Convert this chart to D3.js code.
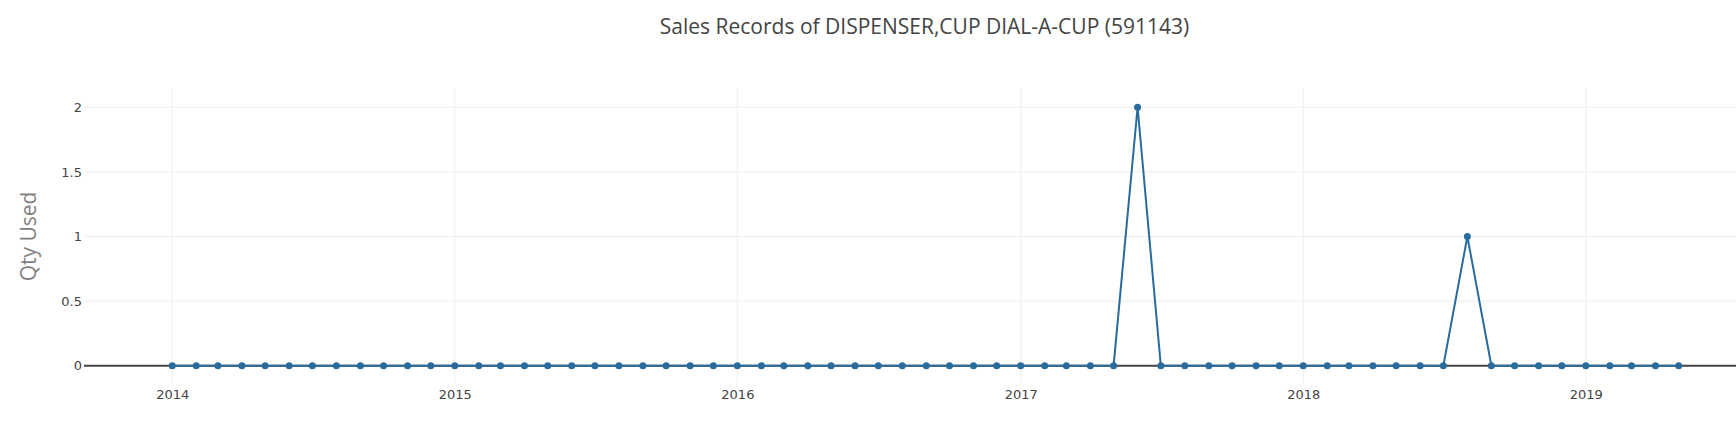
<!DOCTYPE html>
<html>
<head>
<meta charset="utf-8">
<script src="https://cdn.jsdelivr.net/npm/d3@7"></script>
<style>
  html, body { margin: 0; padding: 0; background: #fff; }
  svg { display: block; }
</style>
</head>
<body>
<svg id="chart" width="1736" height="434"></svg>
<script>
const titleText = "Sales Records of DISPENSER,CUP DIAL-A-CUP (591143)";
const yAxisTitle = "Qty Used";

const months = [
  "2014-01","2014-02","2014-03","2014-04","2014-05","2014-06","2014-07","2014-08","2014-09","2014-10","2014-11","2014-12",
  "2015-01","2015-02","2015-03","2015-04","2015-05","2015-06","2015-07","2015-08","2015-09","2015-10","2015-11","2015-12",
  "2016-01","2016-02","2016-03","2016-04","2016-05","2016-06","2016-07","2016-08","2016-09","2016-10","2016-11","2016-12",
  "2017-01","2017-02","2017-03","2017-04","2017-05","2017-06","2017-07","2017-08","2017-09","2017-10","2017-11","2017-12",
  "2018-01","2018-02","2018-03","2018-04","2018-05","2018-06","2018-07","2018-08","2018-09","2018-10","2018-11","2018-12",
  "2019-01","2019-02","2019-03","2019-04","2019-05"
];
const qtyUsed = [
  0,0,0,0,0,0,0,0,0,0,0,0,
  0,0,0,0,0,0,0,0,0,0,0,0,
  0,0,0,0,0,0,0,0,0,0,0,0,
  0,0,0,0,0,2,0,0,0,0,0,0,
  0,0,0,0,0,0,0,1,0,0,0,0,
  0,0,0,0,0
];
const xTickLabels = ["2014","2015","2016","2017","2018","2019"];
const yTickValues = [0, 0.5, 1, 1.5, 2];
const xRange = ["2013-09-09", "2019-07-14"];
const yRange = [-0.134, 2.149];

const parse = d3.timeParse("%Y-%m");
const parseDay = d3.timeParse("%Y-%m-%d");
const data = months.map((m, i) => ({ date: parse(m), value: qtyUsed[i] }));

const svg = d3.select("#chart");
const W = 1736, H = 434;
const m = { left: 84, right: 0, top: 88, bottom: 51 };

const x = d3.scaleTime()
  .domain(xRange.map(parseDay))
  .range([m.left, W - m.right]);
const y = d3.scaleLinear()
  .domain(yRange)
  .range([H - m.bottom, m.top]);

const titleFont = "'Open Sans', 'DejaVu Sans', sans-serif";
const tickFont = "'DejaVu Sans', Verdana, sans-serif";
const lineColor = "#2a6b9d";

// Gridlines
const xTickDates = xTickLabels.map(s => parseDay(s + "-01-01"));
svg.append("g")
  .selectAll("line")
  .data(xTickDates)
  .join("line")
  .attr("x1", d => x(d)).attr("x2", d => x(d))
  .attr("y1", m.top).attr("y2", H - m.bottom)
  .attr("stroke", "#eeeeee").attr("stroke-width", 1);

svg.append("g")
  .selectAll("line")
  .data(yTickValues.filter(v => v !== 0))
  .join("line")
  .attr("x1", m.left).attr("x2", W - m.right)
  .attr("y1", d => y(d)).attr("y2", d => y(d))
  .attr("stroke", "#eeeeee").attr("stroke-width", 1);

// Zero line
svg.append("line")
  .attr("x1", m.left).attr("x2", W - m.right)
  .attr("y1", y(0)).attr("y2", y(0))
  .attr("stroke", "#444444").attr("stroke-width", 2);

// Axes (labels only)
const xAxis = d3.axisBottom(x)
  .tickValues(xTickDates)
  .tickFormat((d, i) => xTickLabels[i])
  .tickSize(0).tickPadding(0);
const gx = svg.append("g")
  .attr("transform", `translate(0, ${y(0) + 33.6})`)
  .call(xAxis);
gx.select(".domain").remove();
gx.selectAll("text")
  .attr("dy", "0")
  .attr("font-family", tickFont).attr("font-size", 13).attr("fill", "#444");

const yAxis = d3.axisLeft(y)
  .tickValues(yTickValues)
  .tickFormat(d3.format("~g"))
  .tickSize(0).tickPadding(0);
const gy = svg.append("g")
  .attr("transform", `translate(${m.left - 2}, 0)`)
  .call(yAxis);
gy.select(".domain").remove();
gy.selectAll("text")
  .attr("font-family", tickFont).attr("font-size", 13).attr("fill", "#444");

// Line
const line = d3.line()
  .x(d => x(d.date))
  .y(d => y(d.value));
svg.append("path")
  .datum(data)
  .attr("d", line)
  .attr("fill", "none")
  .attr("stroke", lineColor)
  .attr("stroke-width", 2);

svg.append("g")
  .selectAll("circle")
  .data(data)
  .join("circle")
  .attr("cx", d => x(d.date))
  .attr("cy", d => y(d.value))
  .attr("r", 3.5)
  .attr("fill", lineColor);

// Title
svg.append("text")
  .attr("x", 924.5).attr("y", 34)
  .attr("text-anchor", "middle")
  .attr("font-family", titleFont).attr("font-size", 21)
  .attr("fill", "#444")
  .text(titleText);

// Y axis title
svg.append("text")
  .attr("transform", `translate(36, ${(y(0) + y(2)) / 2}) rotate(-90)`)
  .attr("text-anchor", "middle")
  .attr("font-family", titleFont).attr("font-size", 21)
  .attr("fill", "#7f7f7f")
  .text(yAxisTitle);
</script>
</body>
</html>
